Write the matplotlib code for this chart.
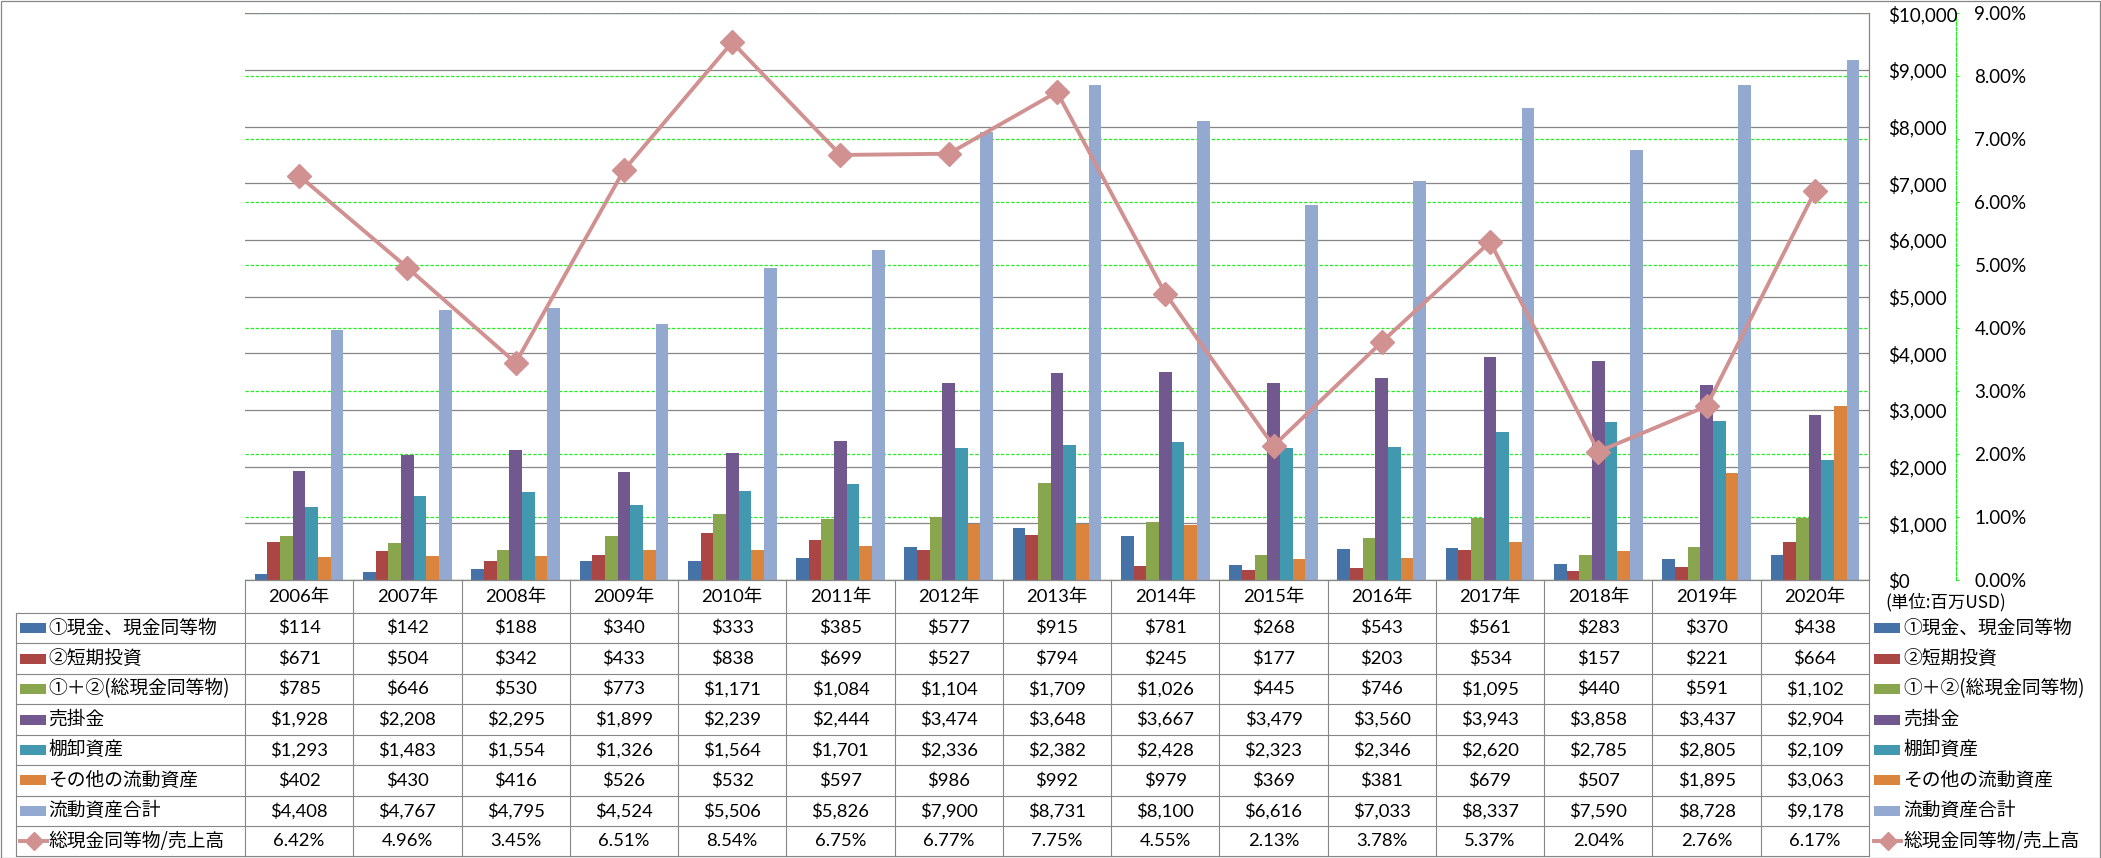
import matplotlib
matplotlib.use('Agg')
import matplotlib.pyplot as plt
import matplotlib.ticker as mticker
from matplotlib.lines import Line2D
from matplotlib.patches import Rectangle
import numpy as np

plt.rcParams['lines.scale_dashes'] = False

# ---------------- data ----------------
years = [2006, 2007, 2008, 2009, 2010, 2011, 2012, 2013, 2014, 2015, 2016, 2017, 2018, 2019, 2020]
year_labels = [f"{y}年" for y in years]

series_names = ['①現金、現金同等物', '②短期投資', '①＋②(総現金同等物)', '売掛金',
                '棚卸資産', 'その他の流動資産', '流動資産合計']
line_name = '総現金同等物/売上高'

cash = [114, 142, 188, 340, 333, 385, 577, 915, 781, 268, 543, 561, 283, 370, 438]
short_inv = [671, 504, 342, 433, 838, 699, 527, 794, 245, 177, 203, 534, 157, 221, 664]
total_cash = [785, 646, 530, 773, 1171, 1084, 1104, 1709, 1026, 445, 746, 1095, 440, 591, 1102]
receivables = [1928, 2208, 2295, 1899, 2239, 2444, 3474, 3648, 3667, 3479, 3560, 3943, 3858, 3437, 2904]
inventory = [1293, 1483, 1554, 1326, 1564, 1701, 2336, 2382, 2428, 2323, 2346, 2620, 2785, 2805, 2109]
other_current = [402, 430, 416, 526, 532, 597, 986, 992, 979, 369, 381, 679, 507, 1895, 3063]
current_total = [4408, 4767, 4795, 4524, 5506, 5826, 7900, 8731, 8100, 6616, 7033, 8337, 7590, 8728, 9178]
cash_to_sales = [6.42, 4.96, 3.45, 6.51, 8.54, 6.75, 6.77, 7.75, 4.55, 2.13, 3.78, 5.37, 2.04, 2.76, 6.17]

series_values = [cash, short_inv, total_cash, receivables, inventory, other_current, current_total]
colors = ['#4572A7', '#AA4643', '#89A54E', '#71588F', '#4198AF', '#DB843D', '#93A9CF']
line_color = '#D19191'
grid_gray = '#868686'
green = '#22EE22'

NUM_FONT = ['Lato', 'DejaVu Sans']
CJK_FONT = ['Noto Sans CJK JP', 'DejaVu Sans']
MIX_FONT = ['Lato', 'Noto Sans CJK JP', 'DejaVu Sans']

# ---------------- figure / layout ----------------
W, H = 2101, 858
fig = plt.figure(figsize=(W / 100, H / 100), dpi=100)
fig.patch.set_facecolor('white')


def fx(px):
    return px / W


def fy(py):
    return 1 - py / H


PLOT_L, PLOT_R, PLOT_T, PLOT_B = 245, 1869, 13.3, 580
pos = [fx(PLOT_L), fy(PLOT_B), fx(PLOT_R) - fx(PLOT_L), fy(PLOT_T) - fy(PLOT_B)]

ax = fig.add_axes(pos)
ax_sec = ax.twinx()
ax_line = ax.twinx()
ax_sec.set_zorder(0)
ax.set_zorder(1)
ax_line.set_zorder(2)
ax.patch.set_visible(False)
ax_line.patch.set_visible(False)
ax_sec.patch.set_facecolor('white')

x = np.arange(len(years))
n = len(series_values)
bw = 0.117
for i, (vals, c) in enumerate(zip(series_values, colors)):
    ax.bar(x + (i - (n - 1) / 2) * bw, vals, width=bw, color=c, edgecolor='none', zorder=2)

ax.set_xlim(-0.5, len(years) - 0.5)
ax.set_ylim(0, 10000)
ax.yaxis.set_major_locator(mticker.MultipleLocator(1000))
ax.yaxis.set_major_formatter(mticker.StrMethodFormatter('${x:,.0f}'))
ax.yaxis.tick_right()
ax.tick_params(axis='y', length=0, pad=13.7, labelsize=13.5, labelcolor='black')
for lab in ax.get_yticklabels():
    lab.set_family(NUM_FONT)
ax.set_xticks([])
ax.grid(axis='y', color=grid_gray, lw=0.9)
ax.set_axisbelow(True)
ax.spines['left'].set_visible(False)
ax.spines['top'].set_visible(False)
ax.spines['right'].set_color(grid_gray)
ax.spines['bottom'].set_color(grid_gray)
ax.spines['right'].set_linewidth(0.9)
ax.spines['bottom'].set_linewidth(0.9)

# secondary axis (percent)
ax_sec.set_ylim(0, 9)
ax_sec.yaxis.set_major_locator(mticker.MultipleLocator(1))
ax_sec.yaxis.set_major_formatter(mticker.FormatStrFormatter('%.2f%%'))
ax_sec.grid(axis='y', color=green, lw=0.9, linestyle=(0, (2.4, 1.3)))
for s in ['left', 'top', 'bottom']:
    ax_sec.spines[s].set_visible(False)
ax_sec.spines['right'].set_position(('outward', 87 * 0.72))
ax_sec.spines['right'].set_color(green)
ax_sec.spines['right'].set_linestyle((0, (2.4, 1.3)))
ax_sec.spines['right'].set_linewidth(0.9)
ax_sec.tick_params(axis='y', direction='out', length=1.8, width=0.8, color=green,
                   pad=11.5, labelsize=13.5, labelcolor='black')
for lab in ax_sec.get_yticklabels():
    lab.set_family(NUM_FONT)

ax_line.set_ylim(0, 9)
ax_line.plot(x, cash_to_sales, color=line_color, lw=2.8, marker='D', ms=12,
             mec=line_color, mfc=line_color, mew=1, clip_on=False, zorder=3)
ax_line.set_axis_off()

# ---------------- table ----------------
fig.canvas.draw()
col_px = ax.transData.transform([(i - 0.5, 0) for i in range(len(years) + 1)])[:, 0]
col_f = col_px / W

TABLE_L = 16
HEADER_T = 580
ROW_T = 613
ROW_H = 30.43
nrows = 8
row_tops = [ROW_T + ROW_H * k for k in range(nrows + 1)]
BOTTOM = row_tops[-1]

lw_t = 0.8


def hline(x0, x1, y):
    fig.add_artist(Line2D([x0, x1], [fy(y), fy(y)], color=grid_gray, lw=lw_t))


def vline(xf, y0, y1):
    fig.add_artist(Line2D([xf, xf], [fy(y0), fy(y1)], color=grid_gray, lw=lw_t))


for yt in row_tops:
    hline(fx(TABLE_L), col_f[-1], yt)
vline(fx(TABLE_L), ROW_T, BOTTOM)
for xf in col_f:
    vline(xf, HEADER_T, BOTTOM)

# header
hy = (HEADER_T + ROW_T) / 2
for i, lab in enumerate(year_labels):
    xc = (col_f[i] + col_f[i + 1]) / 2
    fig.text(xc, fy(hy), lab, ha='center', va='center', fontsize=13.3, family=MIX_FONT, color='black')

# rows
row_texts = [[f"${v:,}" for v in vals] for vals in series_values]
row_texts.append([f"{r:.2f}%" for r in cash_to_sales])
for r in range(nrows):
    yc = (row_tops[r] + row_tops[r + 1]) / 2
    for i, t in enumerate(row_texts[r]):
        xc = (col_f[i] + col_f[i + 1]) / 2
        fig.text(xc, fy(yc), t, ha='center', va='center', fontsize=13.3, family=NUM_FONT, color='black')


def legend_key(x0, yc, idx):
    if idx < len(colors):
        fig.add_artist(Rectangle((fx(x0), fy(yc + 5)), 26 / W, 10 / H,
                                 facecolor=colors[idx], edgecolor='none'))
    else:
        fig.add_artist(Line2D([fx(x0), fx(x0 + 27)], [fy(yc), fy(yc)], color=line_color, lw=2.8))
        fig.add_artist(Line2D([fx(x0 + 13.5)], [fy(yc)], color=line_color, marker='D', ms=9,
                              mec=line_color, mfc=line_color, lw=0))


all_names = series_names + [line_name]
for r in range(nrows):
    yc = (row_tops[r] + row_tops[r + 1]) / 2
    # left label column
    legend_key(20, yc, r)
    fig.text(fx(48), fy(yc), all_names[r], ha='left', va='center', fontsize=13.5,
             family=CJK_FONT, color='black')
    # right legend
    legend_key(1874, yc, r)
    fig.text(fx(1903), fy(yc), all_names[r], ha='left', va='center', fontsize=13.5,
             family=CJK_FONT, color='black')

fig.text(fx(1885), fy(602), '(単位:百万USD)', ha='left', va='center', fontsize=12.5,
         family=CJK_FONT, color='black')

# outer border
fig.add_artist(Rectangle((0.5 / W, 0.5 / H), 1 - 1.5 / W, 1 - 1.5 / H, fill=False,
                         edgecolor=grid_gray, lw=0.9))

fig.savefig('out.png', dpi=100, facecolor='white')
